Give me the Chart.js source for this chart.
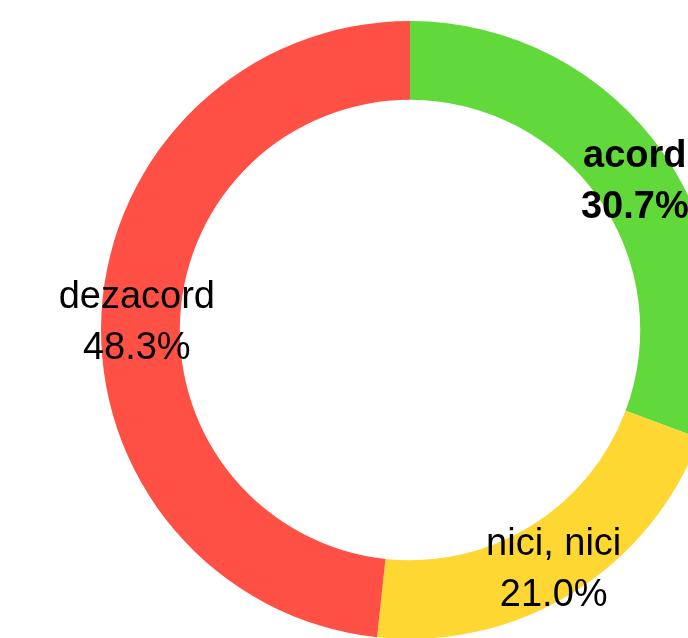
<!DOCTYPE html>
<html>
<head>
<meta charset="utf-8">
<script src="https://cdn.jsdelivr.net/npm/chart.js@4"></script>
<style>
    html, body { margin: 0; padding: 0; background: #fff; overflow: hidden; width: 688px; height: 638px; }
    #grafica { position: absolute; left: 0; top: 0; }
</style>
</head>
<body>
<canvas id="grafica" width="720" height="640"></canvas>
<script>
const etiquetas = ["acord", "nici, nici", "dezacord"];
const valores = [30.7, 21.0, 48.3];
const colores = ["#62D93B", "#FFD733", "#FF5046"];
const negrita = [true, false, false];

const etiquetasPlugin = {
    id: "etiquetas",
    afterDatasetsDraw(chart) {
        const ctx = chart.ctx;
        const meta = chart.getDatasetMeta(0);
        ctx.save();
        ctx.fillStyle = "#000";
        ctx.textAlign = "center";
        ctx.textBaseline = "middle";
        meta.data.forEach((arc, i) => {
            const { x, y, startAngle, endAngle, innerRadius, outerRadius } = arc.getProps(["x", "y", "startAngle", "endAngle", "innerRadius", "outerRadius"]);
            const ang = (startAngle + endAngle) / 2;
            const r = (innerRadius + outerRadius) / 2 + 4;
            const px = x + Math.cos(ang) * r;
            const py = y + Math.sin(ang) * r;
            ctx.font = (negrita[i] ? "bold " : "") + "38px 'Liberation Sans', Arial, sans-serif";
            ctx.fillText(etiquetas[i], px, py - 18);
            ctx.fillText(valores[i].toFixed(1) + "%", px, py + 33);
        });
        ctx.restore();
    }
};

new Chart(document.getElementById("grafica").getContext("2d"), {
    type: "doughnut",
    data: {
        labels: etiquetas,
        datasets: [{
            data: valores,
            backgroundColor: colores,
            borderWidth: 0
        }]
    },
    options: {
        responsive: false,
        animation: false,
        cutout: "74.5%",
        layout: { padding: { left: 101, top: 21, right: 1, bottom: 1 } },
        plugins: { legend: { display: false }, tooltip: { enabled: false } }
    },
    plugins: [etiquetasPlugin]
});
</script>
</body>
</html>
